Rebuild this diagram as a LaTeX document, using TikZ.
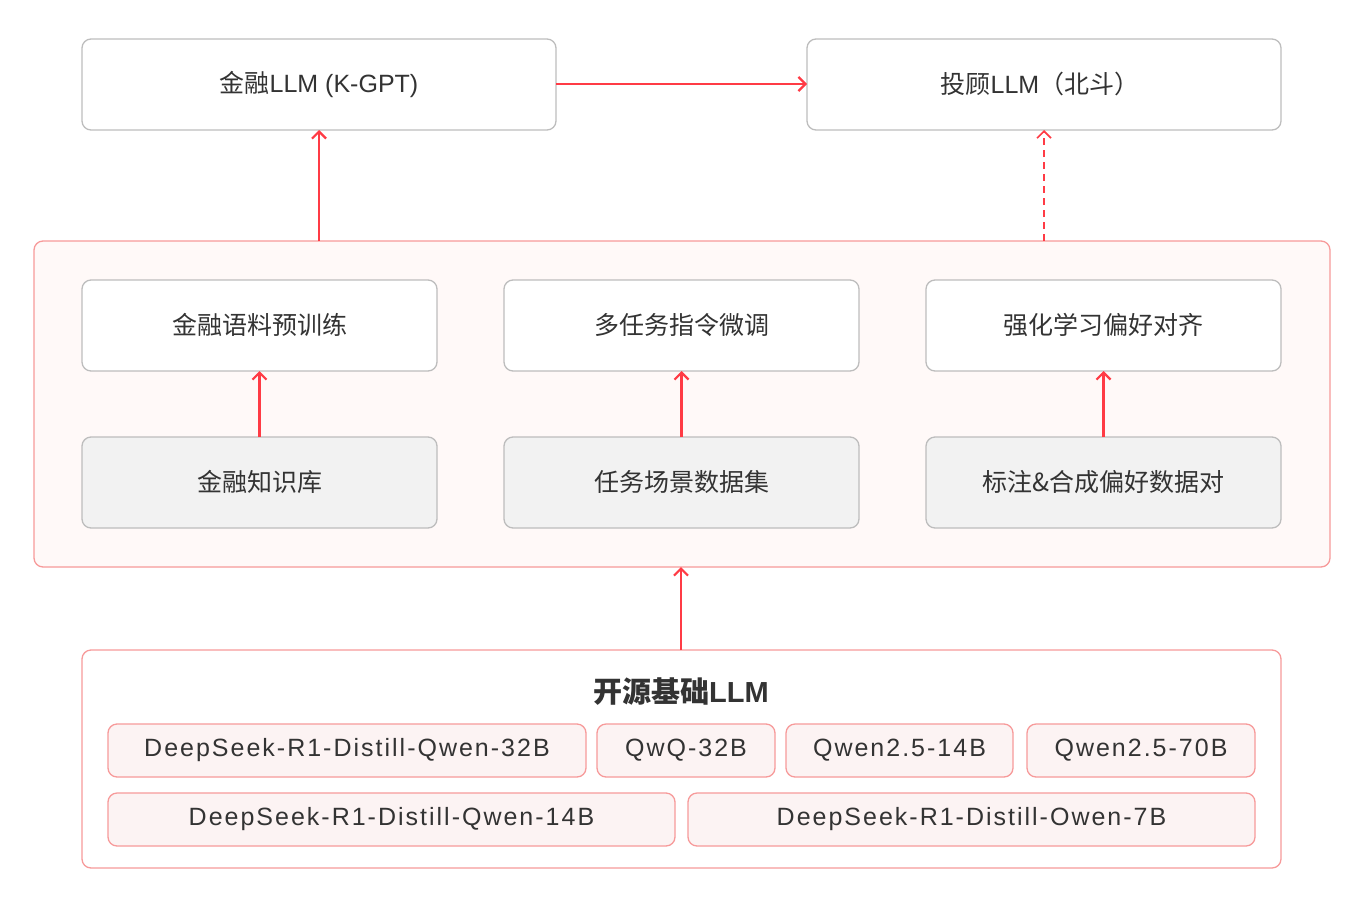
\documentclass[tikz,border=0pt]{standalone}
\usepackage{fontspec}
\setmainfont{Liberation Sans}
\newfontfamily\cjk{Noto Sans CJK SC}
\usetikzlibrary{arrows.meta}
\definecolor{redc}{HTML}{FF3B45}
\definecolor{pinkb}{HTML}{F79A9A}
\definecolor{pinkf}{HTML}{FFF9F8}
\definecolor{modf}{HTML}{FCF3F3}
\definecolor{grayb}{HTML}{BDBDBD}
\definecolor{grayf}{HTML}{F2F2F2}
\definecolor{txt}{HTML}{333333}
\begin{document}
\begin{tikzpicture}[x=1pt,y=-1pt,
  box/.style={draw=grayb,line width=1.3pt,rounded corners=9pt,fill=white},
  gbox/.style={box,fill=grayf},
  cont/.style={draw=pinkb,line width=1.3pt,rounded corners=9pt},
  mbox/.style={draw=pinkb,line width=1.3pt,rounded corners=9pt,fill=modf},
  lab/.style={text=txt,font=\fontsize{25}{28}\selectfont},
  mlab/.style={text=txt,font=\fontsize{25}{28}\selectfont\addfontfeature{LetterSpace=8}},
  clab/.style={text=txt,font=\fontsize{25}{28}\selectfont\cjk},
  arr/.style={draw=redc,line width=2.2pt,-{Straight Barb[length=7pt,width=14pt]}}]
\useasboundingbox (0,0) rectangle (1368,900);
% top
\draw[box] (82,39) rectangle (556,130);
\node[lab] (fin) at (319,84) {{\cjk 金融}LLM (K-GPT)};
\coordinate (finR) at (556,84); \coordinate (finB) at (319,130);
\draw[box] (807,39) rectangle (1281,130);
\node[lab] (adv) at (1040,84) {{\cjk 投顾}LLM{\cjk （北斗）}};
\coordinate (advL) at (807,84); \coordinate (advB) at (1044,130);
\draw[arr] (finR) -- (advL);
% container
\draw[cont,fill=pinkf] (34,241) rectangle (1330,567);
\coordinate (cT1) at (319,241); \coordinate (cT2) at (1044,241); \coordinate (cB) at (681,567);
\draw[arr] (cT1) -- (finB);
\draw[arr,dash pattern=on 7pt off 5pt,line width=1.6pt] (cT2) -- (advB);
\foreach \x/\a/\b/\n in {82/金融语料预训练/金融知识库/a,504/多任务指令微调/任务场景数据集/b,926/强化学习偏好对齐/标注\&合成偏好数据对/c}{
  \draw[box] (\x,280) rectangle ++(355,91);
  \node[clab] (u\n) at (\x+177.5,325) {\a};
  \draw[gbox] (\x,437) rectangle ++(355,91);
  \node[clab] (l\n) at (\x+177.5,482) {\b};
  \coordinate (ut\n) at (\x+177.5,371); \coordinate (lt\n) at (\x+177.5,437);
  \draw[arr] (lt\n) -- (ut\n);
}
% bottom
\draw[cont,fill=white] (82,650) rectangle (1281,868);
\coordinate (bT) at (681,650);
\draw[arr] (bT) -- (cB);
\node[text=txt,font=\fontsize{29}{32}\selectfont\bfseries] (ttl) at (681,692) {{\cjk\bfseries 开源基础}LLM};
\foreach \xa/\xb/\y/\t/\n in {108/586/724/DeepSeek-R1-Distill-Qwen-32B/m1,597/775/724/QwQ-32B/m2,786/1013/724/Qwen2.5-14B/m3,1027/1255/724/Qwen2.5-70B/m4,108/675/793/DeepSeek-R1-Distill-Qwen-14B/m5,688/1255/793/DeepSeek-R1-Distill-Owen-7B/m6}{
  \draw[mbox] (\xa,\y) rectangle (\xb,\y+53);
  \node[mlab] (\n) at ({(\xa+\xb)/2},\y+26.5) {\t};
}
\end{tikzpicture}
\end{document}
